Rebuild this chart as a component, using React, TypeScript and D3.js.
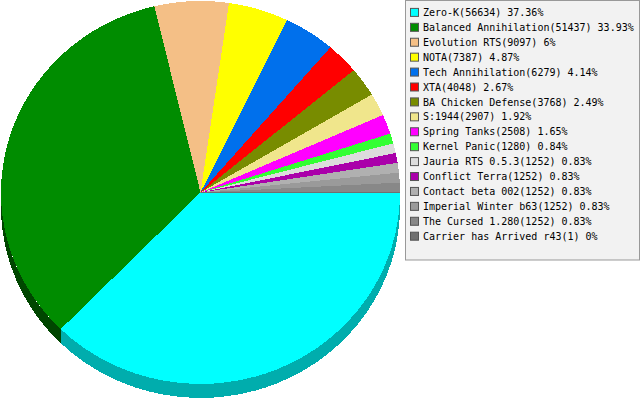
import { useMemo } from "react";
import * as d3 from "d3";

const games = [
  "Zero-K",
  "Balanced Annihilation",
  "Evolution RTS",
  "NOTA",
  "Tech Annihilation",
  "XTA",
  "BA Chicken Defense",
  "S:1944",
  "Spring Tanks",
  "Kernel Panic",
  "Jauria RTS 0.5.3",
  "Conflict Terra",
  "Contact beta 002",
  "Imperial Winter b63",
  "The Cursed 1.280",
  "Carrier has Arrived r43",
];

const players = [56634, 51437, 9097, 7387, 6279, 4048, 3768, 2907, 2508, 1280, 1252, 1252, 1252, 1252, 1252, 1];

const topColors = [
  "#00ffff", "#008c00", "#f4bf86", "#ffff00", "#0070ec", "#ff0000", "#788c00", "#f0e68c",
  "#ff00ff", "#33ff33", "#dcdcdc", "#aa00aa", "#b0b0b0", "#9a9a9a", "#888888", "#707070",
];

const sideColors = [
  "#00adad", "#004600", "#a8825a", "#adad00", "#004ca0", "#ad0000", "#515f00", "#a39c5f",
  "#ad00ad", "#22ad22", "#959595", "#730073", "#777777", "#686868", "#5c5c5c", "#4c4c4c",
];

const W = 641;
const H = 400;
const cx = 200.5;
const cy = 192.5;
const rx = 199.5;
const ry = 191.5;
const depth = 14;

// d3 angles run clockwise from 12 o'clock; map onto the ellipse
const px = (a: number) => cx + rx * Math.sin(a);
const py = (a: number) => cy - ry * Math.cos(a);

function topPath(a0: number, a1: number) {
  const large = a1 - a0 > Math.PI ? 1 : 0;
  return `M${cx},${cy}L${px(a0)},${py(a0)}A${rx},${ry} 0 ${large} 1 ${px(a1)},${py(a1)}Z`;
}

function sidePath(a0: number, a1: number) {
  // only the front half (3 o'clock to 9 o'clock) shows a wall
  const s = Math.max(a0, Math.PI / 2);
  const e = Math.min(a1, (3 * Math.PI) / 2);
  if (e <= s) return null;
  const large = e - s > Math.PI ? 1 : 0;
  return (
    `M${px(s)},${py(s)}A${rx},${ry} 0 ${large} 1 ${px(e)},${py(e)}` +
    `L${px(e)},${py(e) + depth}A${rx},${ry} 0 ${large} 0 ${px(s)},${py(s) + depth}Z`
  );
}

export default function App() {
  const total = d3.sum(players);

  const arcs = useMemo(
    () =>
      d3
        .pie<number>()
        .sort(null)
        .startAngle(Math.PI / 2)
        .endAngle(Math.PI / 2 + 2 * Math.PI)(players),
    []
  );

  const rowY = d3.scaleLinear().domain([0, games.length - 1]).range([12.4, 236.2]);

  return (
    <svg
      width={W}
      height={H}
      style={{ position: "absolute", left: 0, top: 0, display: "block" }}
    >
      <rect width={W} height={H} fill="#ffffff" />
      <g shapeRendering="crispEdges">
        {arcs.map((d, i) => {
          const p = sidePath(d.startAngle, d.endAngle);
          return p ? <path key={"s" + i} d={p} fill={sideColors[i]} /> : null;
        })}
        {arcs.map((d, i) => (
          <path key={"t" + i} d={topPath(d.startAngle, d.endAngle)} fill={topColors[i]} />
        ))}
      </g>
      <rect x={405.5} y={0.5} width={234} height={259.5} fill="#f2f2f2" stroke="#999999" />
      <g fontFamily="'DejaVu Sans Mono', monospace" fontSize={10} fill="#000000">
        {games.map((g, i) => {
          const y = rowY(i);
          const pct = +((players[i] / total) * 100).toFixed(2);
          return (
            <g key={g}>
              <rect x={410.5} y={y - 4} width={8} height={8} fill={topColors[i]} stroke="#555555" />
              <text x={423} y={y + 3.6}>
                {`${g}(${players[i]}) ${pct}%`}
              </text>
            </g>
          );
        })}
      </g>
    </svg>
  );
}
